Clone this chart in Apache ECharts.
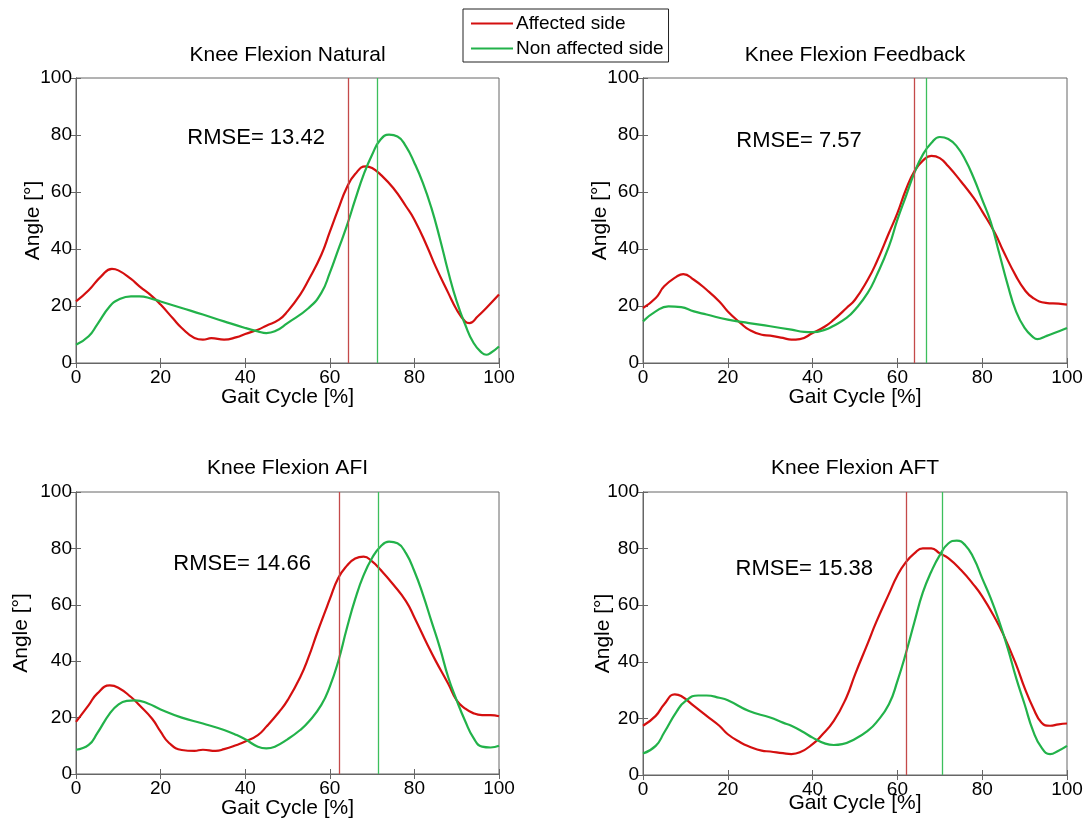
<!DOCTYPE html>
<html>
<head>
<meta charset="utf-8">
<script src="https://cdn.jsdelivr.net/npm/echarts@6/dist/echarts.min.js"></script>
<style>
html,body{margin:0;padding:0;background:#fff;}
#chart{width:1088px;height:828px;}
</style>
</head>
<body>
<div id="chart"></div>
<script>
// ---------- DATA ----------
const panelTitles = ['Knee Flexion Natural', 'Knee Flexion Feedback', 'Knee Flexion AFI', 'Knee Flexion AFT'];
const seriesNames = ['Affected side', 'Non affected side'];
const xTicks = [0, 20, 40, 60, 80, 100];
const yTicks = [0, 20, 40, 60, 80, 100];
const rmseValues = [13.42, 7.57, 14.66, 15.38];
const affectedMarker = [64.4, 64.0, 62.2, 62.1];
const nonAffectedMarker = [71.3, 66.8, 71.5, 70.6];

// Panel 1: Natural
const natAffX = [0,3,6,8.5,10,13,15,18,20,23,25,28,30,32,35,38,40,43,45,48,50,53,55,58,60,62,64,66,68.5,70,72,75,78,80,83,85,88,90,92,93,95,97,100];
const natAffY = [21.6,25.5,30.5,33.0,32.5,29.5,26.9,23.4,20.5,15.5,12.3,8.8,8.2,8.7,8.2,9.1,10.2,11.7,13.1,15.2,18.1,24.0,29.2,38.0,46.0,54.0,61.5,66.3,69.0,68.4,66.1,61.4,55.0,50.3,40.9,33.9,24.6,18.7,14.6,14.0,16.4,19.3,24.0];
const natNonX = [0,3,5,8,10,13,15,18,20,25,30,35,40,43,45,47,50,55,58,60,62,64,66,68,70,72,74,76,78,80,82,84,86,88,90,92,94,96,97,98,100];
const natNonY = [6.4,9.4,13.5,19.9,22.2,23.4,23.4,22.5,21.6,19.3,17.0,14.6,12.3,11.1,10.5,11.1,14.0,19.3,24.6,31.6,39.8,48.0,57.3,66.1,73.1,78.4,80.1,79.5,76.0,70.2,63.2,54.5,43.8,32.0,21.6,13.5,7.0,3.5,2.9,3.5,5.8];

// Panel 2: Feedback
const fbAffX = [0,3,5,8,9.5,12,15,18,20,23,25,28,30,33,35,37,40,43,45,48,50,53,55,58,60,62,64,66,68,70,72,75,78,80,83,85,88,90,92,95,98,100];
const fbAffY = [19.3,22.8,26.9,30.4,31.2,29.2,25.7,21.6,18.1,14.0,11.7,9.9,9.6,8.8,8.2,8.4,10.5,12.9,15.2,19.3,22.2,29.2,35.1,45.6,52.6,60.8,67.3,71.0,72.7,71.9,69.0,63.7,57.9,53.2,45.6,39.2,30.4,25.7,22.8,21.1,20.8,20.5];
const fbNonX = [0,3,6,9,12,15,20,25,30,35,38,40,43,45,48,50,53,55,58,60,62,64,66,68,70,72,74,76,78,80,82,84,86,88,90,92,93,95,97,100];
const fbNonY = [14.6,18.1,19.9,19.6,18.1,17.0,15.2,14.0,12.9,11.7,10.9,10.8,11.7,13.1,15.8,18.7,24.6,30.4,40.9,50.3,58.5,66.7,73.1,77.2,79.3,78.6,76.0,71.3,64.9,57.3,49.5,38.6,27.5,18.0,12.3,9.1,8.4,9.4,10.5,12.3];

// Panel 3: AFI
const afiAffX = [0,3,5,8,10,13,15,18,20,22,25,28,30,33,35,38,40,43,45,48,50,53,55,57,59,60,62,64,66,68,70,72,75,78,80,83,85,88,90,92,94,96,98,100];
const afiAffY = [18.5,24.4,28.5,31.4,30.6,27.3,24.4,19.6,15.0,11.0,8.5,8.2,8.6,8.2,8.8,10.3,11.5,13.8,16.8,22.0,26.1,34.3,41.5,50.0,58.0,62.0,69.5,73.8,76.4,77.1,75.4,72.4,67.2,61.3,55.5,46.1,40.2,32.0,26.1,23.2,21.5,20.9,20.9,20.5];
const afiNonX = [0,3,5,8,10,12,14,17,20,25,30,35,38,40,43,45,47,50,53,55,58,60,62,64,66,68,70,72,74,76,78,80,82,84,86,88,90,92,94,96,98,100];
const afiNonY = [8.6,10.3,14.4,21.5,24.6,25.9,26.1,25.0,22.9,20.0,17.9,15.6,13.8,12.3,9.7,9.1,9.7,12.3,15.6,18.5,24.5,31.0,40.0,51.5,62.0,70.5,76.6,80.7,82.4,81.8,78.3,71.9,63.7,54.3,44.9,34.3,26.1,18.8,12.7,9.7,9.4,10.0];

// Panel 4: AFT
const aftAffX = [0,3,5,7.5,9,12,15,18,20,23,25,28,30,33,35,37,40,42,45,48,50,53,55,58,60,62,64,66,68,70,72,75,78,80,83,85,88,90,92,94,96,98,100];
const aftAffY = [17.4,20.9,25.0,28.5,27.9,24.4,20.9,17.4,14.4,11.5,10.1,8.6,8.3,7.7,7.4,8.0,10.9,13.8,19.1,27.5,35.5,46.5,54.0,64.0,70.5,75.2,78.3,80.1,80.1,78.3,76.6,72.4,67.2,63.1,55.5,49.6,39.0,30.8,23.8,18.5,17.4,17.9,18.2];
const aftNonX = [0,3,5,8,10,13,15,18,20,25,30,33,35,38,40,43,45,47,50,53,55,58,60,62,64,66,68,70,72,74,76,78,80,82,84,86,88,90,92,94,96,98,100];
const aftNonY = [7.6,10.3,15.0,22.6,26.1,28.1,28.1,27.3,26.4,22.6,20.3,18.5,17.4,15.0,13.2,11.1,10.6,10.9,12.7,15.6,18.5,25.0,33.2,43.0,54.0,64.5,71.9,77.7,81.8,82.8,81.2,76.6,69.5,62.5,54.3,44.9,34.3,25.0,15.6,9.7,7.4,8.6,10.3];

const affX = [natAffX, fbAffX, afiAffX, aftAffX];
const affY = [natAffY, fbAffY, afiAffY, aftAffY];
const nonX = [natNonX, fbNonX, afiNonX, aftNonX];
const nonY = [natNonY, fbNonY, afiNonY, aftNonY];

// ---------- LAYOUT / STYLE ----------
const grids = [
  {left: 76, top: 78, width: 423, height: 285},
  {left: 643, top: 78, width: 424, height: 285},
  {left: 76, top: 492, width: 423, height: 282},
  {left: 643, top: 492, width: 424, height: 283}
];
const titleTops = [45, 45, 458, 458];
const xNameGaps = [24, 24, 24, 18];
const yNameGaps = [32, 32, 44, 29];
const rmsePos = [[26.2, 78.9], [21.9, 77.9], [22.9, 74.5], [21.7, 72.8]];

const RED = '#d40f0f';
const GREEN = '#22b24a';
const FRAME = '#666666';
const FONT = 'Liberation Sans, Arial, sans-serif';

function zip(xs, ys) { return xs.map((x, i) => [x, ys[i]]); }

const option = {
  backgroundColor: '#fff',
  animation: false,
  title: [],
  legend: {
    data: seriesNames,
    orient: 'vertical',
    left: 463, top: 9,
    padding: [5, 5, 4, 8],
    itemGap: 6,
    itemWidth: 42, itemHeight: 2,
    icon: 'rect',
    backgroundColor: '#fff',
    borderColor: '#222', borderWidth: 1,
    textStyle: {fontFamily: FONT, fontSize: 19, color: '#000', padding: [0, 0, 0, -2]}
  },
  grid: [], xAxis: [], yAxis: [], series: []
};

for (let p = 0; p < 4; p++) {
  const g = grids[p];
  option.grid.push(Object.assign({show: true, borderColor: FRAME, borderWidth: 1, backgroundColor: '#fff', containLabel: false}, g));
  option.title.push({
    text: panelTitles[p],
    left: g.left + g.width / 2, top: titleTops[p], textAlign: 'center', padding: 0,
    textStyle: {fontFamily: FONT, fontSize: 21, fontWeight: 'normal', color: '#000'}
  });
  option.xAxis.push({
    type: 'value', gridIndex: p, min: xTicks[0], max: xTicks[xTicks.length - 1], interval: xTicks[1] - xTicks[0],
    name: 'Gait Cycle [%]', nameLocation: 'middle', nameGap: xNameGaps[p], nameMoveOverlap: false,
    nameTextStyle: {fontFamily: FONT, fontSize: 21, color: '#000'},
    axisLine: {show: true, lineStyle: {color: FRAME}},
    axisTick: {show: true, inside: true, length: 5, lineStyle: {color: FRAME}},
    axisLabel: {fontFamily: FONT, fontSize: 19, color: '#000', margin: 5},
    splitLine: {show: false}
  });
  option.yAxis.push({
    type: 'value', gridIndex: p, min: yTicks[0], max: yTicks[yTicks.length - 1], interval: yTicks[1] - yTicks[0],
    name: 'Angle [°]', nameLocation: 'middle', nameGap: yNameGaps[p], nameMoveOverlap: false,
    nameTextStyle: {fontFamily: FONT, fontSize: 21, color: '#000'},
    axisLine: {show: true, lineStyle: {color: FRAME}},
    axisTick: {show: true, inside: true, length: 5, lineStyle: {color: FRAME}},
    axisLabel: {fontFamily: FONT, fontSize: 19, color: '#000', margin: 4},
    splitLine: {show: false}
  });
}
// mirrored axes (top & right ticks)
for (let p = 0; p < 4; p++) {
  option.xAxis.push({
    type: 'value', gridIndex: p, position: 'top', min: xTicks[0], max: xTicks[xTicks.length - 1], interval: xTicks[1] - xTicks[0],
    axisLine: {show: true, lineStyle: {color: FRAME}},
    axisTick: {show: true, inside: true, length: 5, lineStyle: {color: FRAME}},
    axisLabel: {show: false}, splitLine: {show: false}
  });
  option.yAxis.push({
    type: 'value', gridIndex: p, position: 'right', min: yTicks[0], max: yTicks[yTicks.length - 1], interval: yTicks[1] - yTicks[0],
    axisLine: {show: true, lineStyle: {color: FRAME}},
    axisTick: {show: true, inside: true, length: 5, lineStyle: {color: FRAME}},
    axisLabel: {show: false}, splitLine: {show: false}
  });
}

for (let p = 0; p < 4; p++) {
  option.series.push({
    name: seriesNames[0], type: 'line', xAxisIndex: p, yAxisIndex: p, z: 3,
    data: zip(affX[p], affY[p]), smooth: 0.5, showSymbol: false, symbol: 'none',
    color: RED, lineStyle: {color: RED, width: 2.2},
    markLine: {silent: true, symbol: 'none', label: {show: false},
      lineStyle: {color: '#c44a4a', width: 1.3, type: 'solid'},
      data: [{xAxis: affectedMarker[p]}]}
  });
  option.series.push({
    name: seriesNames[1], type: 'line', xAxisIndex: p, yAxisIndex: p, z: 3,
    data: zip(nonX[p], nonY[p]), smooth: 0.5, showSymbol: false, symbol: 'none',
    color: GREEN, lineStyle: {color: GREEN, width: 2.2},
    markLine: {silent: true, symbol: 'none', label: {show: false},
      lineStyle: {color: '#3cbf5c', width: 1.3, type: 'solid'},
      data: [{xAxis: nonAffectedMarker[p]}]}
  });
  option.series.push({
    name: 'rmse' + p, type: 'scatter', xAxisIndex: p, yAxisIndex: p,
    symbolSize: 1, silent: true, itemStyle: {opacity: 0},
    data: [rmsePos[p]],
    label: {show: true, position: 'right', distance: 0, opacity: 1,
      formatter: 'RMSE= ' + rmseValues[p].toFixed(2),
      fontFamily: FONT, fontSize: 22, color: '#000000'}
  });
}

const chart = echarts.init(document.getElementById('chart'), null, {renderer: 'canvas'});
chart.setOption(option);
</script>
</body>
</html>
